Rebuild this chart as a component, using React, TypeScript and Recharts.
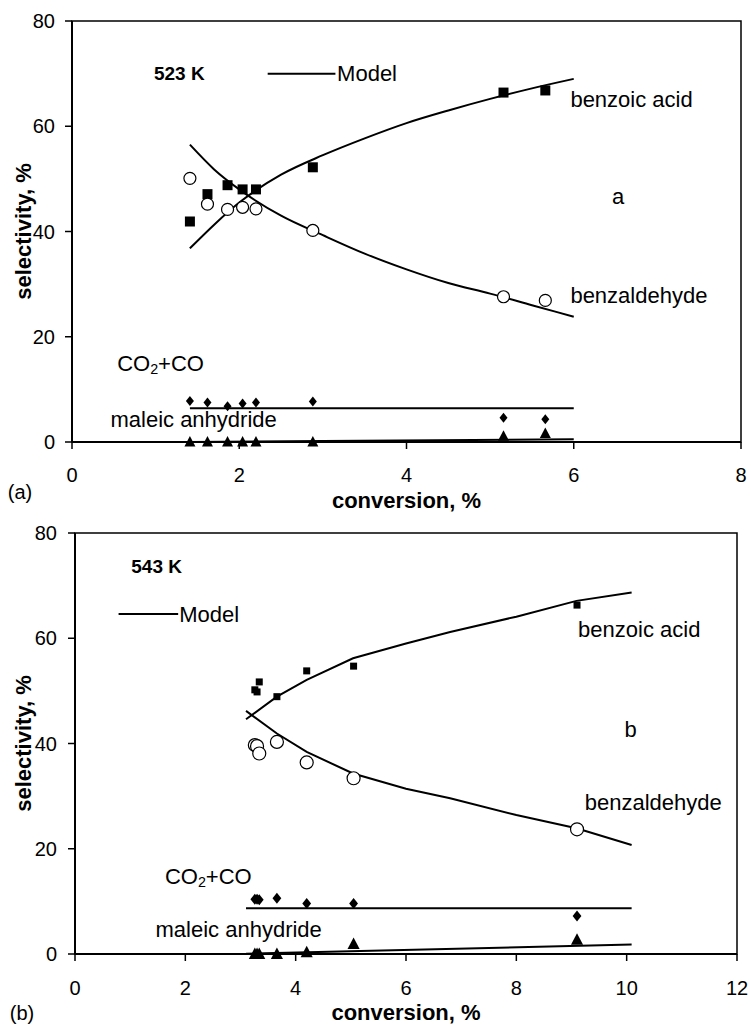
import React from 'react';
import {
  ComposedChart,
  Line,
  Scatter,
  XAxis,
  YAxis,
  ReferenceArea,
  ReferenceDot,
  ReferenceLine,
} from 'recharts';

// ---- panel (a): 523 K, measured points ----
const convA = [1.41, 1.62, 1.86, 2.04, 2.2, 2.88, 5.16, 5.66];
const benzoicA = [41.9, 47.1, 48.8, 48.0, 48.0, 52.2, 66.4, 66.8];
const benzaldA = [50.1, 45.2, 44.2, 44.6, 44.3, 40.2, 27.6, 26.9];
const coxA = [7.8, 7.5, 6.8, 7.3, 7.5, 7.7, 4.6, 4.3];
const maleicA = [0, 0, 0, 0, 0, 0, 1.1, 1.6];

// panel (a) model curves
const modelXA = [1.41, 1.7, 2.0, 2.5, 3.0, 3.5, 4.0, 4.5, 5.0, 5.5, 6.0];
const modelBenzoicA = [36.8, 41.3, 45.5, 50.8, 54.5, 57.7, 60.6, 63.0, 65.2, 67.2, 69.0];
const modelBenzaldA = [56.5, 51.8, 48.0, 43.0, 39.3, 35.8, 32.8, 30.2, 28.2, 26.0, 23.8];
const modelFlatXA = [1.41, 6.0];
const modelCoxA = [6.4, 6.4];
const modelMaleicXA = [1.41, 3.0, 6.0];
const modelMaleicA = [0, 0.2, 0.5];

// ---- panel (b): 543 K, measured points ----
const convB = [3.26, 3.3, 3.34, 3.66, 4.2, 5.05, 9.1];
const benzoicB = [50.2, 49.8, 51.7, 48.9, 53.8, 54.7, 66.3];
const benzaldB = [39.7, 39.5, 38.1, 40.3, 36.4, 33.4, 23.7];
const coxB = [10.4, 10.4, 10.3, 10.6, 9.6, 9.6, 7.2];
const maleicB = [0, 0, 0, 0, 0.3, 1.9, 2.7];

// panel (b) model curves
const modelXB = [3.1, 3.66, 4.2, 5.04, 6.0, 6.8, 8.0, 9.09, 10.09];
const modelBenzoicB = [44.6, 48.9, 52.1, 56.2, 59.0, 61.2, 64.1, 67.1, 68.7];
const modelBenzaldB = [46.2, 41.9, 38.4, 34.3, 31.4, 29.6, 26.4, 23.9, 20.7];
const modelFlatXB = [3.1, 10.09];
const modelCoxB = [8.7, 8.7];
const modelMaleicB = [0.05, 1.8];

const ticksA = [0, 2, 4, 6, 8];
const ticksB = [0, 2, 4, 6, 8, 10, 12];
const yTicks = [0, 20, 40, 60, 80];

const FONT = '"Liberation Sans", Arial, sans-serif';

type Pt = { x: number; y: number };
const zip = (xs: number[], ys: number[]): Pt[] => xs.map((x, i) => ({ x, y: ys[i] }));

// marker shapes
const square = (s: number) => (p: any) => (
  <rect x={p.cx - s / 2} y={p.cy - s / 2} width={s} height={s} fill="#000" />
);
const circle = (r: number) => (p: any) => (
  <circle cx={p.cx} cy={p.cy} r={r} fill="#fff" stroke="#000" strokeWidth={1.2} />
);
const diamond = (h: number) => (p: any) => (
  <polygon
    points={`${p.cx},${p.cy - h} ${p.cx + h * 0.8},${p.cy} ${p.cx},${p.cy + h} ${p.cx - h * 0.8},${p.cy}`}
    fill="#000"
  />
);
const triangle = (h: number) => (p: any) => (
  <polygon
    points={`${p.cx},${p.cy - h * 0.6} ${p.cx + h * 0.55},${p.cy + h * 0.45} ${p.cx - h * 0.55},${p.cy + h * 0.45}`}
    fill="#000"
  />
);

type NoteSpec = { x: number; y: number; text: string; bold?: boolean; anchor?: string; size?: number; sub?: boolean };

const renderNote = (n: NoteSpec) => (props: any) => {
  const vb = props.viewBox || {};
  const cx = (vb.x ?? 0) + (vb.width ?? 0) / 2;
  const cy = (vb.y ?? 0) + (vb.height ?? 0) / 2;
  const size = n.size ?? 22;
  if (n.sub) {
    // CO2+CO with subscript
    return (
      <text x={cx} y={cy} fontFamily={FONT} fontSize={size} fill="#000" dominantBaseline="central">
        CO<tspan fontSize={size * 0.65} dy={6}>2</tspan>
        <tspan dy={-6}>+CO</tspan>
      </text>
    );
  }
  return (
    <text
      x={cx}
      y={cy}
      fontFamily={FONT}
      fontSize={size}
      fontWeight={n.bold ? 'bold' : 'normal'}
      fill="#000"
      textAnchor={n.anchor || 'start'}
      dominantBaseline="central"
    >
      {n.text}
    </text>
  );
};

interface PanelProps {
  width: number;
  height: number;
  margin: { top: number; right: number; bottom: number; left: number };
  xMax: number;
  xTicks: number[];
  tag: string;
  tagX: number;
  tagDy: number;
  titleDy: number;
  xTickMargin: number;
  yTickMargin: number;
  benzoic: Pt[];
  benzald: Pt[];
  cox: Pt[];
  maleic: Pt[];
  mBenzoic: Pt[];
  mBenzald: Pt[];
  mCox: Pt[];
  mMaleic: Pt[];
  curve: 'monotone' | 'linear';
  legend: { x1: number; x2: number; y: number };
  notes: NoteSpec[];
  sq: number;
  dm: number;
  tri: number;
  cr: number;
}

const Panel: React.FC<PanelProps> = (p) => {
  const tickStyle = { fill: '#000', fontSize: 20, fontFamily: FONT };
  const modelLine = (data: Pt[], key: string, type: 'monotone' | 'linear') => (
    <Line
      key={key}
      data={data}
      dataKey="y"
      type={type}
      stroke="#000"
      strokeWidth={2}
      dot={false}
      activeDot={false}
      isAnimationActive={false}
    />
  );
  return (
    <ComposedChart width={p.width} height={p.height} margin={p.margin}>
      <ReferenceArea x1={0} x2={p.xMax} y1={0} y2={80} fill="none" stroke="#000" strokeWidth={1.5} />
      <XAxis
        dataKey="x"
        type="number"
        domain={[0, p.xMax]}
        ticks={p.xTicks}
        interval={0}
        height={30}
        tickSize={7}
        tickMargin={p.xTickMargin}
        allowDataOverflow
        axisLine={{ stroke: '#000', strokeWidth: 2 }}
        tickLine={{ stroke: '#000', strokeWidth: 1.5 }}
        tick={tickStyle}
        label={{
          content: (lp: any) => {
            const vb = lp.viewBox || {};
            return (
              <g>
                <text
                  x={vb.x + vb.width / 2}
                  y={vb.y + p.titleDy}
                  textAnchor="middle"
                  dominantBaseline="central"
                  fontFamily={FONT}
                  fontSize={22}
                  fontWeight="bold"
                  fill="#000"
                >
                  conversion, %
                </text>
                <text
                  x={p.tagX}
                  y={vb.y + p.tagDy}
                  textAnchor="middle"
                  dominantBaseline="central"
                  fontFamily={FONT}
                  fontSize={20}
                  fill="#000"
                >
                  {p.tag}
                </text>
              </g>
            );
          },
        }}
      />
      <YAxis
        type="number"
        domain={[0, 80]}
        ticks={yTicks}
        interval={0}
        width={60}
        tickSize={7}
        tickMargin={p.yTickMargin}
        axisLine={{ stroke: '#000', strokeWidth: 2 }}
        tickLine={{ stroke: '#000', strokeWidth: 1.5 }}
        tick={tickStyle}
        label={{
          content: (lp: any) => {
            const vb = lp.viewBox || {};
            const x = 23;
            const y = vb.y + vb.height / 2;
            return (
              <text
                x={x}
                y={y}
                transform={`rotate(-90, ${x}, ${y})`}
                textAnchor="middle"
                dominantBaseline="central"
                fontFamily={FONT}
                fontSize={22}
                fontWeight="bold"
                fill="#000"
              >
                selectivity, %
              </text>
            );
          },
        }}
      />
      {modelLine(p.mBenzoic, 'mb', p.curve)}
      {modelLine(p.mBenzald, 'md', p.curve)}
      {modelLine(p.mCox, 'mc', 'linear')}
      {modelLine(p.mMaleic, 'mm', 'linear')}
      <Scatter data={p.benzoic} dataKey="y" shape={square(p.sq)} isAnimationActive={false} />
      <Scatter data={p.benzald} dataKey="y" shape={circle(p.cr)} isAnimationActive={false} />
      <Scatter data={p.cox} dataKey="y" shape={diamond(p.dm)} isAnimationActive={false} />
      <Scatter data={p.maleic} dataKey="y" shape={triangle(p.tri)} isAnimationActive={false} />
      <ReferenceLine
        segment={[
          { x: p.legend.x1, y: p.legend.y },
          { x: p.legend.x2, y: p.legend.y },
        ]}
        stroke="#000"
        strokeWidth={2}
      />
      {p.notes.map((n, i) => (
        <ReferenceDot
          key={`n${i}`}
          x={n.x}
          y={n.y}
          r={0}
          fill="none"
          stroke="none"
          label={{ content: renderNote(n) }}
        />
      ))}
    </ComposedChart>
  );
};

const notesA: NoteSpec[] = [
  { x: 0.98, y: 70.1, text: '523 K', bold: true, size: 19 },
  { x: 3.17, y: 70.0, text: 'Model' },
  { x: 5.96, y: 65.0, text: 'benzoic acid' },
  { x: 6.53, y: 46.7, text: 'a', anchor: 'middle' },
  { x: 5.96, y: 27.8, text: 'benzaldehyde' },
  { x: 0.54, y: 15.0, text: 'CO2+CO', sub: true },
  { x: 0.46, y: 4.2, text: 'maleic anhydride' },
];

const notesB: NoteSpec[] = [
  { x: 1.02, y: 73.7, text: '543 K', bold: true, size: 19 },
  { x: 1.89, y: 64.6, text: 'Model' },
  { x: 9.12, y: 61.6, text: 'benzoic acid' },
  { x: 10.07, y: 42.6, text: 'b', anchor: 'middle' },
  { x: 9.24, y: 28.7, text: 'benzaldehyde' },
  { x: 1.63, y: 14.8, text: 'CO2+CO', sub: true },
  { x: 1.46, y: 4.6, text: 'maleic anhydride' },
];

export default function App() {
  return (
    <div style={{ position: 'absolute', left: 0, top: 0, width: 751, height: 1026, background: '#fff' }}>
      <div style={{ position: 'absolute', left: 0, top: 0 }}>
        <Panel
          width={751}
          height={515}
          margin={{ top: 21, right: 10, bottom: 43, left: 12 }}
          xMax={8}
          xTicks={ticksA}
          tag="(a)"
          tagX={20}
          tagDy={50}
          titleDy={58}
          xTickMargin={19}
          yTickMargin={10}
          benzoic={zip(convA, benzoicA)}
          benzald={zip(convA, benzaldA)}
          cox={zip(convA, coxA)}
          maleic={zip(convA, maleicA)}
          mBenzoic={zip(modelXA, modelBenzoicA)}
          mBenzald={zip(modelXA, modelBenzaldA)}
          mCox={zip(modelFlatXA, modelCoxA)}
          mMaleic={zip(modelMaleicXA, modelMaleicA)}
          curve="monotone"
          legend={{ x1: 2.34, x2: 3.15, y: 70 }}
          notes={notesA}
          sq={10}
          cr={6}
          dm={5}
          tri={10}
        />
      </div>
      <div style={{ position: 'absolute', left: 0, top: 510 }}>
        <Panel
          width={751}
          height={516}
          margin={{ top: 23, right: 14, bottom: 42, left: 15 }}
          xMax={12}
          xTicks={ticksB}
          tag="(b)"
          tagX={22}
          tagDy={59}
          titleDy={58}
          xTickMargin={20}
          yTickMargin={11}
          benzoic={zip(convB, benzoicB)}
          benzald={zip(convB, benzaldB)}
          cox={zip(convB, coxB)}
          maleic={zip(convB, maleicB)}
          mBenzoic={zip(modelXB, modelBenzoicB)}
          mBenzald={zip(modelXB, modelBenzaldB)}
          mCox={zip(modelFlatXB, modelCoxB)}
          mMaleic={zip(modelFlatXB, modelMaleicB)}
          curve="linear"
          legend={{ x1: 0.79, x2: 1.87, y: 64.6 }}
          notes={notesB}
          sq={7}
          cr={6.5}
          dm={5.5}
          tri={11}
        />
      </div>
    </div>
  );
}
